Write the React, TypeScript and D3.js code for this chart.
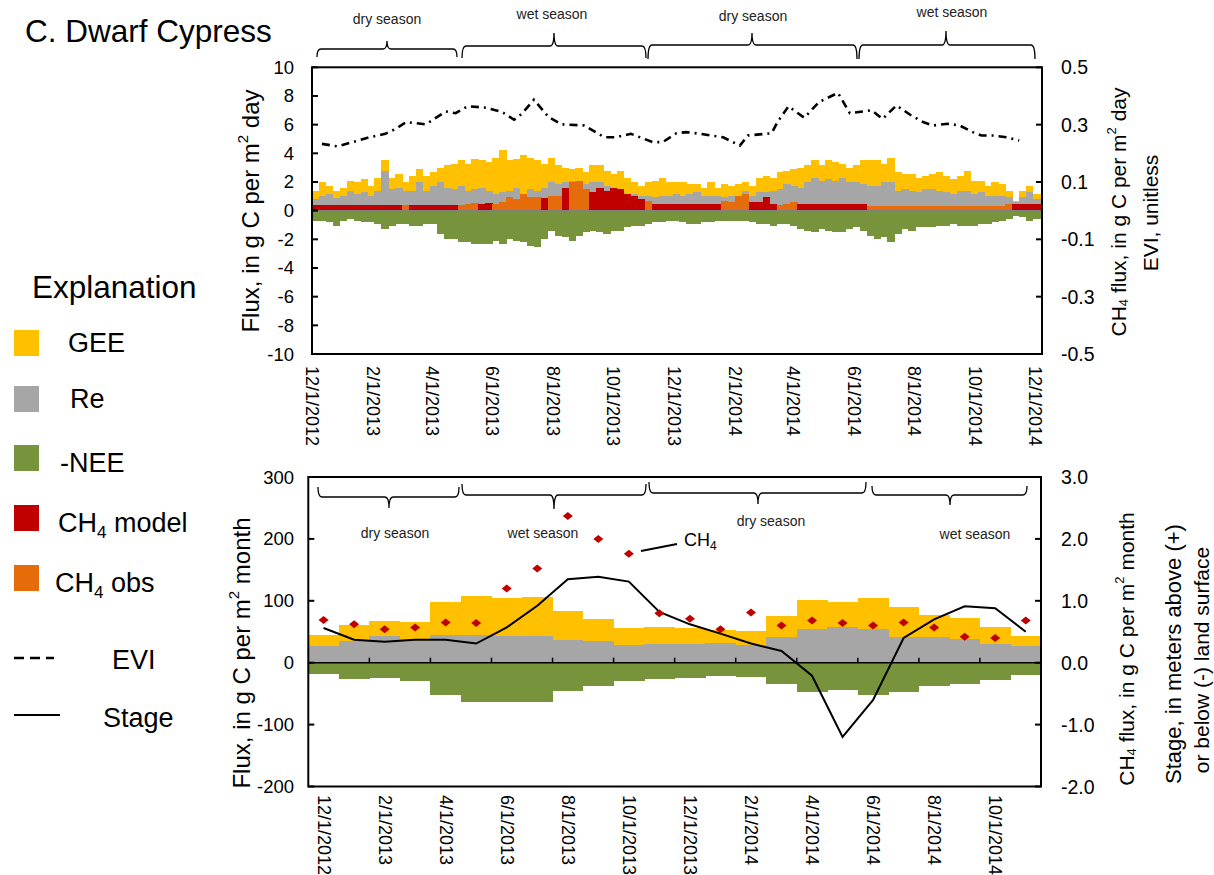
import React from "react";
import * as d3 from "d3";

const FONT = "'Liberation Sans', Arial, Helvetica, sans-serif";

// ---------------- Top panel: weekly-resolution daily fluxes (g C per m2 day) ----------------
const weekStartDate = "12/1/2012";
const weeklyGEE = [
  1.4, 2.0, 1.75, 1.4, 1.6, 2.1, 2.0, 2.2, 1.75, 2.3, 3.5, 2.3, 2.55, 2.0, 2.45, 2.9, 2.45, 2.7, 3.0, 3.15,
  3.25, 3.5, 3.25, 3.6, 3.5, 3.4, 3.7, 4.2, 3.5, 3.6, 3.85, 3.7, 3.5, 3.25, 3.7, 3.15, 3.0, 2.9, 3.0, 2.7,
  3.15, 3.15, 2.8, 2.55, 2.8, 2.3, 2.0, 1.75, 2.0, 2.1, 2.3, 2.0, 2.0, 2.0, 1.85, 1.85, 1.6, 2.0, 1.6, 1.85,
  1.75, 1.85, 2.0, 1.75, 2.3, 2.45, 2.3, 2.7, 2.8, 2.9, 3.0, 3.15, 3.5, 3.15, 3.5, 3.4, 3.25, 3.0, 3.15, 3.5,
  3.5, 3.5, 3.25, 3.7, 2.7, 2.55, 2.55, 2.3, 2.45, 2.55, 2.7, 2.45, 2.2, 2.45, 2.8, 2.1, 2.1, 1.75, 2.0, 1.85,
  1.4, 0.7, 1.4, 1.75, 1.15,
];
const weeklyRe = [
  0.8, 1.05, 1.15, 0.9, 1.05, 1.4, 1.15, 1.3, 1.05, 1.4, 2.8, 1.5, 1.6, 1.4, 1.4, 2.0, 1.4, 1.75, 2.0, 1.6,
  1.5, 1.75, 1.4, 1.5, 1.6, 1.4, 1.15, 1.3, 1.4, 1.6, 1.15, 1.5, 1.4, 1.6, 2.0, 1.85, 2.0, 2.1, 2.1, 1.85,
  2.0, 2.0, 1.75, 1.5, 1.4, 1.15, 1.15, 1.05, 1.05, 0.93, 1.05, 1.05, 1.15, 1.05, 1.15, 1.3, 1.05, 1.05, 1.0, 0.93,
  1.05, 1.05, 1.4, 1.05, 1.3, 1.3, 1.4, 1.5, 1.85, 1.75, 1.6, 2.0, 2.3, 2.1, 2.2, 2.1, 2.3, 2.0, 2.0, 1.85,
  1.75, 1.75, 2.0, 2.0, 1.4, 1.5, 1.4, 1.3, 1.5, 1.5, 1.4, 1.3, 1.15, 1.4, 1.4, 1.15, 1.3, 1.05, 1.05, 1.05,
  0.93, 0.58, 0.93, 1.3, 0.8,
];
const weeklyNegNEE = [
  -0.7, -0.7, -0.8, -1.05, -0.7, -0.6, -0.7, -0.8, -0.8, -0.95, -1.3, -1.05, -0.95, -0.95, -1.05, -1.05, -0.95, -0.95, -1.6, -2.0,
  -2.0, -2.2, -2.2, -2.3, -2.35, -2.35, -2.1, -2.35, -2.0, -2.1, -2.2, -2.45, -2.55, -2.0, -1.4, -1.75, -1.85, -2.1, -1.75, -1.5,
  -1.4, -1.5, -1.6, -1.4, -1.4, -1.15, -1.05, -1.05, -0.95, -0.8, -0.8, -0.7, -0.7, -0.8, -0.95, -0.95, -0.8, -0.8, -0.7, -0.7,
  -0.7, -0.7, -0.7, -0.8, -0.95, -0.95, -1.05, -0.95, -0.95, -1.05, -1.3, -1.4, -1.5, -1.3, -1.4, -1.5, -1.5, -1.3, -1.15, -1.4,
  -1.75, -2.0, -1.85, -2.2, -1.6, -1.3, -1.4, -1.15, -1.15, -1.15, -1.05, -1.05, -0.95, -1.05, -1.05, -1.05, -0.95, -0.95, -0.8, -0.7,
  -0.6, -0.35, -0.47, -0.7, -0.6,
];
// CH4 flux, g C per m2 day (right axis)
const weeklyCH4 = [
  0.021, 0.021, 0.021, 0.021, 0.021, 0.021, 0.021, 0.021, 0.021, 0.021, 0.021, 0.021, 0.021, 0.02, 0.021, 0.021, 0.021, 0.021, 0.021, 0.021,
  0.021, 0.02, 0.0225, 0.025, 0.0225, 0.025, 0.0225, 0.03, 0.0465, 0.041, 0.0575, 0.0465, 0.0465, 0.045, 0.05, 0.0525, 0.08, 0.1, 0.105, 0.075,
  0.065, 0.08, 0.07, 0.08, 0.075, 0.0575, 0.0525, 0.04, 0.035, 0.0235, 0.0235, 0.0235, 0.0235, 0.0235, 0.0235, 0.0235, 0.0235, 0.0235, 0.0235, 0.035,
  0.029, 0.0525, 0.0575, 0.029, 0.029, 0.0465, 0.0235, 0.02, 0.0235, 0.029, 0.0235, 0.0235, 0.0235, 0.0235, 0.0235, 0.0235, 0.0235, 0.0235, 0.0235, 0.0235,
  0.0175, 0.0175, 0.0175, 0.0175, 0.0175, 0.0175, 0.0175, 0.0175, 0.0175, 0.0175, 0.0175, 0.0175, 0.0175, 0.0175, 0.0175, 0.0175, 0.0175, 0.0175, 0.0175, 0.0175,
  0.0225, 0.0235, 0.0235, 0.0235, 0.0235,
];
// 1 = observed CH4, 0 = modeled CH4
const weeklyCH4Observed = [
  0, 0, 0, 0, 0, 0, 0, 0, 0, 0, 0, 0, 0, 1, 0, 0, 0, 0, 0, 0,
  0, 1, 1, 1, 0, 0, 1, 1, 1, 1, 1, 1, 1, 0, 1, 1, 0, 1, 1, 1,
  0, 0, 0, 0, 0, 0, 0, 0, 1, 0, 0, 0, 0, 0, 0, 0, 0, 0, 0, 1,
  1, 1, 1, 0, 0, 0, 0, 1, 1, 1, 0, 0, 0, 0, 0, 0, 0, 0, 0, 0,
  1, 1, 1, 1, 1, 1, 1, 1, 1, 1, 1, 1, 1, 1, 1, 1, 1, 1, 1, 1,
  1, 0, 0, 0, 0,
];
const eviDates = [
  "12/11/2012", "12/27/2012", "1/28/2013", "2/13/2013", "2/24/2013", "3/6/2013", "3/26/2013", "4/15/2013", "4/25/2013", "5/7/2013",
  "5/26/2013", "6/11/2013", "6/23/2013", "7/1/2013", "7/13/2013", "7/28/2013", "8/10/2013", "9/2/2013", "9/22/2013", "10/4/2013",
  "10/19/2013", "11/10/2013", "11/20/2013", "12/4/2013", "12/14/2013", "12/28/2013", "1/20/2014", "2/6/2014", "2/14/2014", "2/26/2014",
  "3/10/2014", "3/16/2014", "3/27/2014", "4/12/2014", "4/27/2014", "5/16/2014", "5/28/2014", "6/19/2014", "6/30/2014", "7/14/2014",
  "7/29/2014", "8/10/2014", "8/20/2014", "9/4/2014", "9/16/2014", "9/29/2014", "10/8/2014", "10/19/2014", "11/2/2014", "11/15/2014",
];
const eviValues = [
  0.233, 0.224, 0.256, 0.268, 0.286, 0.309, 0.301, 0.346, 0.34, 0.364,
  0.359, 0.344, 0.317, 0.338, 0.387, 0.326, 0.301, 0.297, 0.256, 0.256,
  0.268, 0.239, 0.239, 0.27, 0.274, 0.268, 0.256, 0.227, 0.262, 0.266,
  0.27, 0.309, 0.364, 0.324, 0.379, 0.411, 0.34, 0.35, 0.32, 0.367,
  0.332, 0.309, 0.297, 0.303, 0.297, 0.274, 0.262, 0.262, 0.256, 0.245,
];
const topFluxTicks = [10, 8, 6, 4, 2, 0, -2, -4, -6, -8, -10];
const topRightTicks = ["0.5", "0.3", "0.1", "-0.1", "-0.3", "-0.5"];
const topDateTicks = [
  "12/1/2012", "2/1/2013", "4/1/2013", "6/1/2013", "8/1/2013", "10/1/2013", "12/1/2013",
  "2/1/2014", "4/1/2014", "6/1/2014", "8/1/2014", "10/1/2014", "12/1/2014",
];

// ---------------- Bottom panel: monthly values ----------------
const months = [
  "12/1/2012", "1/1/2013", "2/1/2013", "3/1/2013", "4/1/2013", "5/1/2013", "6/1/2013", "7/1/2013",
  "8/1/2013", "9/1/2013", "10/1/2013", "11/1/2013", "12/1/2013", "1/1/2014", "2/1/2014", "3/1/2014",
  "4/1/2014", "5/1/2014", "6/1/2014", "7/1/2014", "8/1/2014", "9/1/2014", "10/1/2014", "11/1/2014",
];
const monthlyGEE = [45, 61, 68, 66, 98, 107, 105, 106, 84, 71, 56, 57, 56, 53, 51, 76, 102, 98, 105, 90, 77, 73, 58, 43];
const monthlyRe = [27, 35, 43, 38, 45, 45, 43, 43, 37, 35, 28, 31, 31, 32, 29, 41, 55, 58, 54, 41, 41, 38, 31, 27];
const monthlyNegNEE = [-18, -27, -25, -29, -52, -63, -64, -64, -46, -38, -29, -27, -25, -22, -23, -35, -48, -44, -52, -47, -38, -34, -28, -20];
const monthlyCH4 = [0.69, 0.62, 0.54, 0.57, 0.65, 0.64, 1.2, 1.52, 2.37, 2.0, 1.76, 0.8, 0.71, 0.54, 0.81, 0.6, 0.68, 0.64, 0.6, 0.65, 0.57, 0.42, 0.4, 0.68];
const monthlyStage = [0.56, 0.37, 0.34, 0.37, 0.37, 0.31, 0.57, 0.92, 1.35, 1.39, 1.31, 0.82, 0.62, 0.47, 0.31, 0.19, -0.21, -1.2, -0.6, 0.4, 0.7, 0.91, 0.88, 0.5];
const bottomFluxTicks = [300, 200, 100, 0, -100, -200];
const bottomRightTicks = ["3.0", "2.0", "1.0", "0.0", "-1.0", "-2.0"];

const COLORS = {
  gee: "#FFC000",
  re: "#A6A6A6",
  nee: "#77933C",
  ch4Model: "#C00000",
  ch4Obs: "#E46C0A",
};

const parseDate = (s: string) => {
  const [m, d, y] = s.split("/").map(Number);
  return new Date(y, m - 1, d);
};

function bracePath(x1: number, x2: number, xt: number, yEnd: number, yH: number, yTip: number) {
  const r = 4;
  return `M${x1},${yEnd} Q${x1},${yH} ${x1 + r},${yH} L${xt - r},${yH} Q${xt},${yH} ${xt},${yTip} Q${xt},${yH} ${xt + r},${yH} L${x2 - r},${yH} Q${x2},${yH} ${x2},${yEnd}`;
}

const topBraces = [
  { x1: 317, x2: 457, xt: 387, yEnd: 57, yH: 49, yTip: 41, label: "dry season", lx: 387, ly: 24 },
  { x1: 462, x2: 646, xt: 554, yEnd: 58, yH: 46, yTip: 33, label: "wet season", lx: 552, ly: 19 },
  { x1: 648, x2: 857, xt: 752, yEnd: 59, yH: 45, yTip: 33, label: "dry season", lx: 753, ly: 21 },
  { x1: 859, x2: 1035, xt: 946, yEnd: 59, yH: 45, yTip: 31, label: "wet season", lx: 952, ly: 17 },
];
const bottomBraces = [
  { x1: 318, x2: 459, xt: 389, yEnd: 487, yH: 497, yTip: 508, label: "dry season", lx: 395, ly: 538 },
  { x1: 462, x2: 646, xt: 554, yEnd: 484, yH: 495, yTip: 509, label: "wet season", lx: 543, ly: 538 },
  { x1: 649, x2: 866, xt: 758, yEnd: 482, yH: 493, yTip: 504, label: "dry season", lx: 771, ly: 526 },
  { x1: 872, x2: 1027, xt: 950, yEnd: 486, yH: 495, yTip: 505, label: "wet season", lx: 975, ly: 539 },
];

export default function App() {
  // ---------- top panel ----------
  const tL = 312, tR = 1042, tT = 67.3, tB = 354;
  const xT = d3.scaleTime().domain([parseDate("12/1/2012"), parseDate("12/8/2014")]).range([tL, tR]);
  const yTL = d3.scaleLinear().domain([-10, 10]).range([tB, tT]);
  const yTR = d3.scaleLinear().domain([-0.5, 0.5]).range([tB, tT]);
  const start = parseDate(weekStartDate);
  const weekX = (i: number) => xT(d3.timeDay.offset(start, 7 * i));
  const weeks = weeklyGEE.map((_, i) => ({ i, x0: weekX(i), x1: i === weeklyGEE.length - 1 ? tR : weekX(i + 1) }));
  const eviPts = eviDates.map((d, i) => [xT(parseDate(d)), yTR(eviValues[i])] as [number, number]);
  const eviLine = d3.line()(eviPts) || "";

  // ---------- bottom panel ----------
  const bL = 308.3, bR = 1041, bT = 477, bB = 786.5;
  const xB = d3.scaleBand<string>().domain(months).range([bL, bR]).padding(0);
  const yBL = d3.scaleLinear().domain([-200, 300]).range([bB, bT]);
  const yBR = d3.scaleLinear().domain([-2, 3]).range([bB, bT]);
  const bw = xB.bandwidth();
  const cx = (m: string) => (xB(m) as number) + bw / 2;
  const stageLine = d3.line()(months.map((m, i) => [cx(m), yBR(monthlyStage[i])] as [number, number])) || "";

  const bar = (x0: number, x1: number, ya: number, yb: number, fill: string, key: string) => (
    <rect key={key} x={x0} y={Math.min(ya, yb)} width={x1 - x0 + 0.4} height={Math.abs(yb - ya)} fill={fill} shapeRendering="crispEdges" />
  );

  const leftTickFont = 18.5;
  const rightTickFont = 19.5;
  const dateFont = 18;
  const titleFont = 21;
  const leftTitleFont = 24;
  const legendFont = 27;

  return (
    <svg width={1214} height={875} style={{ position: "absolute", left: 0, top: 0, background: "#fff" }} fontFamily={FONT}>
      <rect x={0} y={0} width={1214} height={875} fill="#fff" />
      <defs>
        <clipPath id="topclip"><rect x={tL} y={tT} width={tR - tL} height={tB - tT} /></clipPath>
      </defs>

      {/* title */}
      <text x={25} y={42} fontSize={31.5} fill="#000">C. Dwarf Cypress</text>

      {/* ================= top panel ================= */}
      <g clipPath="url(#topclip)">
        {weeks.map((w) => bar(w.x0, w.x1, yTL(0), yTL(weeklyGEE[w.i]), COLORS.gee, `g${w.i}`))}
        {weeks.map((w) => bar(w.x0, w.x1, yTL(0), yTL(weeklyRe[w.i]), COLORS.re, `r${w.i}`))}
        {weeks.map((w) => bar(w.x0, w.x1, yTR(0), yTR(weeklyCH4[w.i]), weeklyCH4Observed[w.i] ? COLORS.ch4Obs : COLORS.ch4Model, `c${w.i}`))}
        {weeks.map((w) => bar(w.x0, w.x1, yTL(0), yTL(weeklyNegNEE[w.i]), COLORS.nee, `n${w.i}`))}
        <line x1={tL} x2={tR} y1={yTL(0)} y2={yTL(0)} stroke="#808080" strokeWidth={1.5} />
        <path d={eviLine} fill="none" stroke="#000" strokeWidth={2.6} strokeDasharray="8 5 2 5" />
      </g>
      <rect x={tL} y={tT} width={tR - tL} height={tB - tT} fill="none" stroke="#000" strokeWidth={2} />
      {topFluxTicks.map((t) => (
        <g key={`tl${t}`}>
          <line x1={tL} x2={tL + 6} y1={yTL(t)} y2={yTL(t)} stroke="#000" strokeWidth={2} />
          <text x={294} y={yTL(t)} fontSize={leftTickFont} textAnchor="end" dominantBaseline="central">{t}</text>
        </g>
      ))}
      {topRightTicks.map((t) => (
        <g key={`tr${t}`}>
          <line x1={tR - 6} x2={tR} y1={yTR(+t)} y2={yTR(+t)} stroke="#000" strokeWidth={2} />
          <text x={1061} y={yTR(+t)} fontSize={rightTickFont} textAnchor="start" dominantBaseline="central">{t}</text>
        </g>
      ))}
      {topDateTicks.map((d) => (
        <text key={`td${d}`} transform={`translate(${xT(parseDate(d))},366) rotate(90)`} fontSize={dateFont} textAnchor="start" dominantBaseline="central">{d}</text>
      ))}
      <text transform="translate(250,211) rotate(-90)" fontSize={leftTitleFont} textAnchor="middle" dominantBaseline="central">
        Flux, in g C per m<tspan dy={-8} fontSize={15}>2</tspan><tspan dy={8}> day</tspan>
      </text>
      <text transform="translate(1118,212) rotate(-90)" fontSize={titleFont} textAnchor="middle" dominantBaseline="central">
        CH<tspan dy={5} fontSize={13}>4</tspan><tspan dy={-5}> flux, in g C per m</tspan><tspan dy={-7} fontSize={13}>2</tspan><tspan dy={7}> day</tspan>
      </text>
      <text transform="translate(1150,213) rotate(-90)" fontSize={titleFont} textAnchor="middle" dominantBaseline="central">EVI, unitless</text>
      {topBraces.map((b, i) => (
        <g key={`tb${i}`}>
          <path d={bracePath(b.x1, b.x2, b.xt, b.yEnd, b.yH, b.yTip)} fill="none" stroke="#000" strokeWidth={1.3} />
          <text x={b.lx} y={b.ly} fontSize={14} textAnchor="middle" fill="#222">{b.label}</text>
        </g>
      ))}

      {/* ================= bottom panel ================= */}
      {months.map((m, i) => bar(xB(m) as number, (xB(m) as number) + bw, yBL(0), yBL(monthlyGEE[i]), COLORS.gee, `bg${i}`))}
      {months.map((m, i) => bar(xB(m) as number, (xB(m) as number) + bw, yBL(0), yBL(monthlyRe[i]), COLORS.re, `br${i}`))}
      {months.map((m, i) => bar(xB(m) as number, (xB(m) as number) + bw, yBL(0), yBL(monthlyNegNEE[i]), COLORS.nee, `bn${i}`))}
      <line x1={bL} x2={bR} y1={yBL(0)} y2={yBL(0)} stroke="#000" strokeWidth={1.5} />
      {months.map((m, i) => (i % 2 === 0 && i > 0 ? (
        <line key={`bx${i}`} x1={xB(m) as number} x2={xB(m) as number} y1={yBL(0)} y2={yBL(0) - 5} stroke="#000" strokeWidth={1.5} />
      ) : null))}
      <path d={stageLine} fill="none" stroke="#000" strokeWidth={2} />
      {months.map((m, i) => {
        const x = cx(m), y = yBR(monthlyCH4[i]);
        return <path key={`d${i}`} d={`M${x - 5},${y} L${x},${y - 4} L${x + 5},${y} L${x},${y + 4} Z`} fill={COLORS.ch4Model} />;
      })}
      <rect x={bL} y={bT} width={bR - bL} height={bB - bT} fill="none" stroke="#000" strokeWidth={2} />
      {bottomFluxTicks.map((t) => (
        <g key={`bl${t}`}>
          <line x1={bL} x2={bL + 6} y1={yBL(t)} y2={yBL(t)} stroke="#000" strokeWidth={2} />
          <text x={294} y={yBL(t)} fontSize={leftTickFont} textAnchor="end" dominantBaseline="central">{t}</text>
        </g>
      ))}
      {bottomRightTicks.map((t) => (
        <g key={`brt${t}`}>
          <line x1={bR - 6} x2={bR} y1={yBR(+t)} y2={yBR(+t)} stroke="#000" strokeWidth={2} />
          <text x={1061} y={yBR(+t)} fontSize={rightTickFont} textAnchor="start" dominantBaseline="central">{t}</text>
        </g>
      ))}
      {months.map((m, i) => (i % 2 === 0 ? (
        <text key={`bd${i}`} transform={`translate(${cx(m)},795) rotate(90)`} fontSize={dateFont} textAnchor="start" dominantBaseline="central">{m}</text>
      ) : null))}
      <text transform="translate(241,653) rotate(-90)" fontSize={leftTitleFont} textAnchor="middle" dominantBaseline="central">
        Flux, in g C per m<tspan dy={-8} fontSize={15}>2</tspan><tspan dy={8}> month</tspan>
      </text>
      <text transform="translate(1126,649) rotate(-90)" fontSize={titleFont} textAnchor="middle" dominantBaseline="central">
        CH<tspan dy={5} fontSize={13}>4</tspan><tspan dy={-5}> flux, in g C per m</tspan><tspan dy={-7} fontSize={13}>2</tspan><tspan dy={7}> month</tspan>
      </text>
      <text transform="translate(1173,654) rotate(-90)" fontSize={22} textAnchor="middle" dominantBaseline="central">Stage, in meters above (+)</text>
      <text transform="translate(1201,660) rotate(-90)" fontSize={21} textAnchor="middle" dominantBaseline="central">or below (-) land surface</text>
      {bottomBraces.map((b, i) => (
        <g key={`bb${i}`}>
          <path d={bracePath(b.x1, b.x2, b.xt, b.yEnd, b.yH, b.yTip)} fill="none" stroke="#000" strokeWidth={1.3} />
          <text x={b.lx} y={b.ly} fontSize={14} textAnchor="middle" fill="#222">{b.label}</text>
        </g>
      ))}
      <line x1={641} y1={551} x2={677} y2={544} stroke="#000" strokeWidth={2} />
      <text x={684} y={546} fontSize={18}>CH<tspan dy={4} fontSize={12}>4</tspan></text>

      {/* ================= legend ================= */}
      <text x={32} y={298} fontSize={31.5}>Explanation</text>
      <rect x={14} y={330} width={25} height={26} fill={COLORS.gee} />
      <text x={68} y={352} fontSize={legendFont}>GEE</text>
      <rect x={14} y={386} width={25} height={26} fill={COLORS.re} />
      <text x={70} y={408} fontSize={legendFont}>Re</text>
      <rect x={14} y={445} width={25} height={26} fill={COLORS.nee} />
      <text x={60} y={472} fontSize={legendFont}>-NEE</text>
      <rect x={14} y={505} width={25} height={26} fill={COLORS.ch4Model} />
      <text x={58} y={532} fontSize={legendFont}>CH<tspan dy={6} fontSize={17}>4</tspan><tspan dy={-6}> model</tspan></text>
      <rect x={14} y={565} width={25} height={26} fill={COLORS.ch4Obs} />
      <text x={55} y={592} fontSize={legendFont}>CH<tspan dy={6} fontSize={17}>4</tspan><tspan dy={-6}> obs</tspan></text>
      <line x1={14} x2={54} y1={658} y2={658} stroke="#000" strokeWidth={2.5} strokeDasharray="10 6" />
      <text x={112} y={669} fontSize={legendFont}>EVI</text>
      <line x1={14} x2={60} y1={715} y2={715} stroke="#000" strokeWidth={2} />
      <text x={103} y={727} fontSize={legendFont}>Stage</text>
    </svg>
  );
}
